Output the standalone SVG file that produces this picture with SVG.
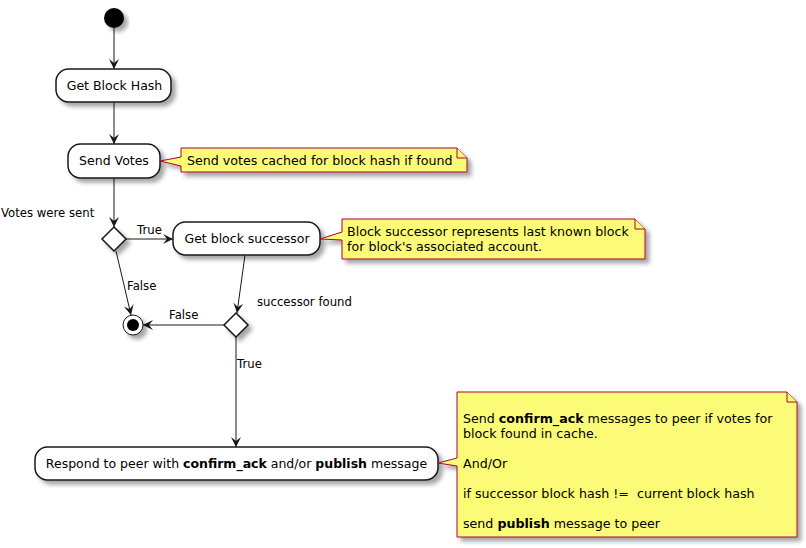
<svg xmlns="http://www.w3.org/2000/svg" width="806" height="548" viewBox="0 0 806 548">
<style>
text{font-family:"DejaVu Sans","Liberation Sans",sans-serif;fill:#000}
.act{fill:#fff;stroke:#181818;stroke-width:1.5}
.note{fill:#FBFB77;stroke:#A80036;stroke-width:1}
.t12{font-size:12.5px}
.t13{font-size:12.65px}
.t11{font-size:11.7px}
.c{stroke:#181818;stroke-width:1;fill:none;marker-end:url(#ah)}
.b{font-weight:bold}
</style>
<defs>
<filter id="sh" x="-20%" y="-20%" width="150%" height="160%">
<feGaussianBlur in="SourceAlpha" stdDeviation="2"/>
<feOffset dx="4" dy="4" result="o"/>
<feComponentTransfer><feFuncA type="linear" slope="0.35"/></feComponentTransfer>
<feMerge><feMergeNode/><feMergeNode in="SourceGraphic"/></feMerge>
</filter>
<marker id="ah" markerUnits="userSpaceOnUse" markerWidth="11" markerHeight="11" refX="10" refY="5" orient="auto">
<path d="M0,0 L10,5 L0,10 L4,5 Z" fill="#181818"/>
</marker>
</defs>

<g id="connectors">
<path class="c" d="M114,28 L114,69"/>
<path class="c" d="M114,102 L114,144"/>
<path class="c" d="M114,178 L114,227"/>
<path class="c" d="M126,239 L173,239"/>
<path class="c" d="M116,251 L131,315"/>
<path class="c" d="M245,255 L237,313"/>
<path class="c" d="M224,325 L143,325"/>
<path class="c" d="M236,337 L236,447"/>
<text class="t11" x="137" y="234">True</text>
<text class="t11" x="127" y="290">False</text>
<text class="t11" x="169" y="319">False</text>
<text class="t11" x="237" y="368">True</text>
</g>

<g id="start" filter="url(#sh)">
<circle cx="114" cy="18" r="10" fill="#000"/>
</g>

<g id="getBlockHash">
<rect class="act" filter="url(#sh)" x="56" y="69" width="115" height="33" rx="12.5"/>
<text class="t12" x="114.5" y="90" text-anchor="middle">Get Block Hash</text>
</g>

<g id="sendVotes">
<rect class="act" filter="url(#sh)" x="68" y="144" width="92" height="34" rx="12.5"/>
<text class="t12" x="114" y="165" text-anchor="middle">Send Votes</text>
</g>

<g id="note1">
<path class="note" filter="url(#sh)" d="M181,148 L457,148 L467,158 L467,172 L181,172 L181,166 L160,161 L181,157 Z"/>
<path class="note" d="M457,148 L457,158 L467,158"/>
<text class="t13" x="187" y="165">Send votes cached for block hash if found</text>
</g>

<g id="decision1">
<polygon class="act" filter="url(#sh)" points="114,227 126,239 114,251 102,239"/>
<text class="t11" x="1" y="217">Votes were sent</text>
</g>

<g id="getBlockSuccessor">
<rect class="act" filter="url(#sh)" x="173" y="222" width="147" height="33" rx="12.5"/>
<text class="t12" x="247" y="243" text-anchor="middle">Get block successor</text>
</g>

<g id="note2">
<path class="note" filter="url(#sh)" d="M342,219 L635,219 L645,229 L645,259 L342,259 L342,240 L320,239 L342,232 Z"/>
<path class="note" d="M635,219 L635,229 L645,229"/>
<text class="t13" x="347" y="236">Block successor represents last known block</text>
<text class="t13" x="347" y="251">for block's associated account.</text>
</g>

<g id="decision2">
<polygon class="act" filter="url(#sh)" points="236,313 248,325 236,337 224,325"/>
<text class="t11" x="257" y="306">successor found</text>
</g>

<g id="end" filter="url(#sh)">
<circle cx="133" cy="325" r="10" fill="#fff" stroke="#181818" stroke-width="1"/>
<circle cx="133" cy="325" r="6" fill="#000"/>
</g>

<g id="respond">
<rect class="act" filter="url(#sh)" x="35" y="447" width="403" height="33" rx="12.5"/>
<text class="t12" x="236.5" y="468" text-anchor="middle">Respond to peer with <tspan class="b">confirm_ack</tspan> and/or <tspan class="b">publish</tspan> message</text>
</g>

<g id="note3">
<path class="note" filter="url(#sh)" d="M457,392 L787,392 L797,402 L797,537 L457,537 L457,466 L438,463 L457,458 Z"/>
<path class="note" d="M787,392 L787,402 L797,402"/>
<text class="t13" x="463" y="423">Send <tspan class="b">confirm_ack</tspan> messages to peer if votes for</text>
<text class="t13" x="463" y="438">block found in cache.</text>
<text class="t13" x="463" y="468">And/Or</text>
<text class="t13" x="463" y="498" xml:space="preserve">if successor block hash !=  current block hash</text>
<text class="t13" x="463" y="528">send <tspan class="b">publish</tspan> message to peer</text>
</g>
</svg>
